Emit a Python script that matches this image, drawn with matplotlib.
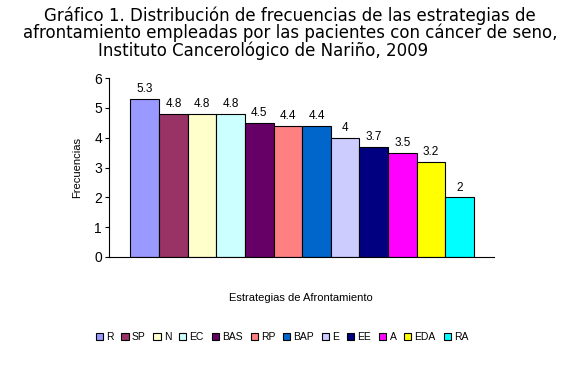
import matplotlib.pyplot as plt
import numpy as np

categorias = ["R", "SP", "N", "EC", "BAS", "RP", "BAP", "E", "EE", "A", "EDA", "RA"]
valores = [5.3, 4.8, 4.8, 4.8, 4.5, 4.4, 4.4, 4.0, 3.7, 3.5, 3.2, 2.0]
etiquetas = ["5.3", "4.8", "4.8", "4.8", "4.5", "4.4", "4.4", "4", "3.7", "3.5", "3.2", "2"]
colores = ["#9999FF", "#993366", "#FFFFCC", "#CCFFFF", "#660066", "#FF8080",
           "#0066CC", "#CCCCFF", "#000080", "#FF00FF", "#FFFF00", "#00FFFF"]
titulo = ["Gráfico 1. Distribución de frecuencias de las estrategias de",
          "afrontamiento empleadas por las pacientes con cáncer de seno,",
          "Instituto Cancerológico de Nariño, 2009"]

fig = plt.figure(figsize=(5.78, 3.67), dpi=100)
ax = fig.add_axes([109/578, 1 - 257/367, 385/578, (257 - 78)/367])

x = np.arange(len(valores))
for i in range(len(valores)):
    ax.bar(x[i], valores[i], width=1.0, color=colores[i], edgecolor="black",
           linewidth=0.8, label=categorias[i])
    ax.text(x[i], valores[i] + 0.12, etiquetas[i], ha="center", va="bottom",
            fontsize=8.5, family="Liberation Sans")

ax.set_xlim(-1.25, 12.2)
ax.set_ylim(0, 6)
ax.set_yticks(range(7))
ax.set_xticks([])
for s in ["top", "right"]:
    ax.spines[s].set_visible(False)
ax.tick_params(axis="y", labelsize=10, length=3, width=0.8, pad=2)
for lab in ax.get_yticklabels():
    lab.set_family("Liberation Sans")
ax.set_ylabel("Frecuencias", fontsize=8, family="Liberation Sans", labelpad=9)

fig.text(0.52, 1 - 298/367, "Estrategias de Afrontamiento", ha="center", va="center",
         fontsize=8, family="Liberation Sans")

# titulo, tres lineas (la ultima algo a la izquierda como en el original)
centros = [290, 290, 263]
alturas = [16, 33, 51]
for t, cx, cy in zip(titulo, centros, alturas):
    fig.text(cx/578, 1 - cy/367, t, ha="center", va="center", fontsize=12)

fig.legend(loc="center", bbox_to_anchor=(0.488, 1 - 337/367), ncol=12, frameon=False,
           prop={"family": "Liberation Sans", "size": 7.5},
           handlelength=0.7, handleheight=0.7, handletextpad=0.3, columnspacing=0.75)

fig.savefig("out.png", dpi=100)
